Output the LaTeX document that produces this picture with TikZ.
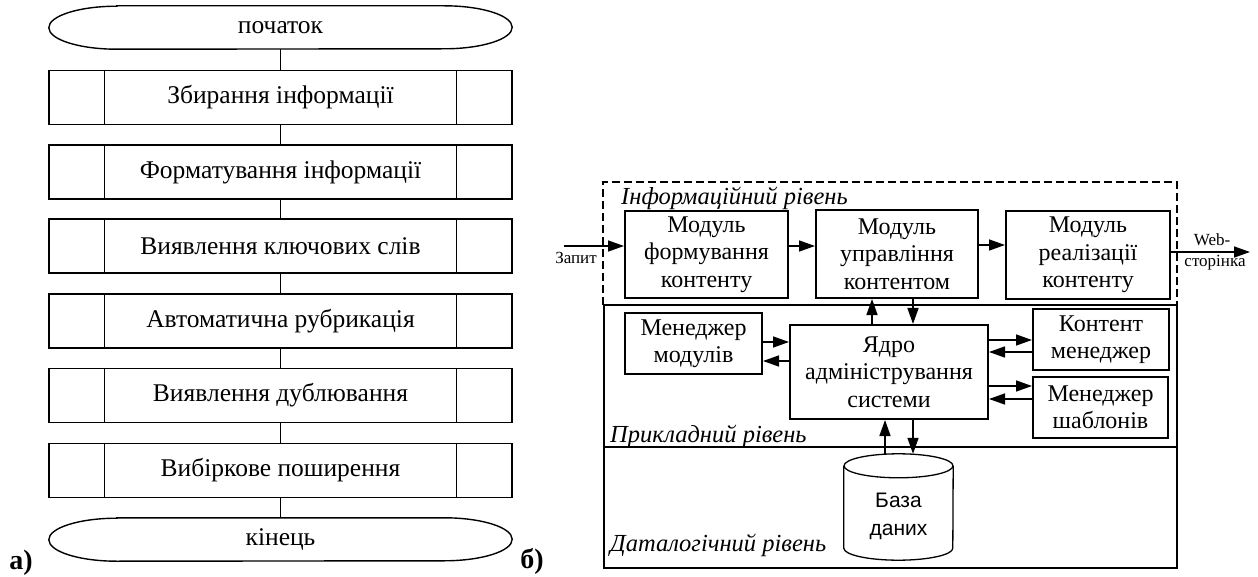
\documentclass[tikz,border=0pt]{standalone}
\usepackage{fontspec}
\setmainfont{Liberation Serif}
\newfontfamily\dbfont{Liberation Sans}
\usetikzlibrary{arrows.meta,calc}
\begin{document}
\begin{tikzpicture}[x=1pt,y=-1pt,
  fbox/.style={draw, line width=1.4pt, minimum width=463pt, minimum height=54pt, inner sep=0pt, font=\fontsize{25.5}{30}\selectfont},
  term/.style={minimum width=463pt, minimum height=43pt, inner sep=0pt, font=\fontsize{25.5}{30}\selectfont},
  flow/.style={line width=1.4pt},
  mod/.style={draw, line width=2pt, inner sep=0pt, align=center, font=\fontsize{24}{27.5}\selectfont},
  arr/.style={line width=1.5pt, -{Triangle[length=16pt,width=11pt]}},
  lvl/.style={font=\fontsize{24.5}{28}\selectfont\itshape, inner sep=0pt, anchor=base west},
  small/.style={font=\fontsize{17}{20}\selectfont, inner sep=0pt},
  tag/.style={font=\fontsize{28}{32}\selectfont\bfseries, inner sep=0pt}
]
\useasboundingbox (0,0) rectangle (1258,577);

% ---------- a) flowchart ----------
\node[term] (start) at (280.5,27.5) {початок};
\node[fbox] (b1) at (280.5,97.5) {Збирання інформації};
\node[fbox] (b2) at (280.5,172) {Форматування інформації};
\node[fbox] (b3) at (280.5,246) {Виявлення ключових слів};
\node[fbox] (b4) at (280.5,321) {Автоматична рубрикація};
\node[fbox] (b5) at (280.5,395.5) {Виявлення дублювання};
\node[fbox] (b6) at (280.5,470.5) {Вибіркове поширення};
\node[term] (end) at (280.5,539.5) {кінець};

\foreach \n in {start,end}{
  \draw[flow] ([xshift=68pt]\n.north west) -- ([xshift=-68pt]\n.north east)
    arc[start angle=90, end angle=-90, x radius=68pt, y radius=21.5pt]
    -- ([xshift=68pt]\n.south west)
    arc[start angle=270, end angle=90, x radius=68pt, y radius=21.5pt] -- cycle;
}
\foreach \n in {b1,b2,b3,b4,b5,b6}{
  \draw[flow] ([xshift=56pt]\n.north west) -- ([xshift=56pt]\n.south west);
  \draw[flow] ([xshift=-56pt]\n.north east) -- ([xshift=-56pt]\n.south east);
}
\draw[flow] (start) -- (b1);
\draw[flow] (b1) -- (b2);
\draw[flow] (b2) -- (b3);
\draw[flow] (b3) -- (b4);
\draw[flow] (b4) -- (b5);
\draw[flow] (b5) -- (b6);
\draw[flow] (b6) -- (end);

\node[tag] (ta) at (21,563) {а)};
\node[tag] (tb) at (532,561) {б)};

% ---------- b) architecture ----------
\draw[line width=2.2pt, dash pattern=on 8pt off 4pt] (603,305) -- (603,182) -- (1177,182) -- (1177,305);
\draw[line width=1.3pt] (604,305) rectangle (1177,568);
\draw[line width=1.3pt] (604,447) -- (1177,447);

\node[lvl] (l1) at (621,205) {Інформаційний рівень};
\node[lvl] (l2) at (610,442) {Прикладний рівень};
\node[lvl] (l3) at (610,551) {Даталогічний рівень};

\node[mod, minimum width=163pt, minimum height=87pt] (m1) at (706.5,254.5) {Модуль\\формування\\контенту};
\node[mod, minimum width=162pt, minimum height=88pt] (m2) at (897,254) {Модуль\\управління\\контентом};
\node[mod, minimum width=164pt, minimum height=88pt] (m3) at (1088,255) {Модуль\\реалізації\\контенту};
\node[mod, minimum width=137pt, minimum height=61pt] (mm) at (693.5,343.5) {Менеджер\\модулів};
\node[mod, minimum width=198pt, minimum height=94pt] (yd) at (889,372) {Ядро\\адміністрування\\системи};
\node[mod, minimum width=136pt, minimum height=61pt] (km) at (1101,339.5) {Контент\\менеджер};
\node[mod, minimum width=135pt, minimum height=61pt] (ms) at (1100.5,407.5) {Менеджер\\шаблонів};

% database cylinder
\node[minimum width=109pt, minimum height=106pt, inner sep=0pt] (db) at (898.5,507) {};
\draw[line width=1.3pt] ([yshift=-12pt]db.north) ellipse[x radius=54.5pt, y radius=12pt];
\draw[line width=1.3pt] ([yshift=-12pt]db.north west) -- ([yshift=12pt]db.south west)
  arc[start angle=180, end angle=360, x radius=54.5pt, y radius=12pt] -- ([yshift=-12pt]db.north east);
\node[font=\dbfont\fontsize{21}{28}\selectfont, align=center, inner sep=0pt] (dbt) at (898.5,516) {База\\даних};

% input / output
\coordinate (zin) at (564,246);
\draw[arr] (zin) -- (zin -| m1.west);
\node[small] (zl) at (576,258) {Запит};
\coordinate (wout) at (1250,252);
\draw[arr] (m3.east |- wout) -- (wout);
\node[small] (w1) at (1212,240) {Web-};
\node[small] (w2) at (1215,263) {сторінка};

% module chain
\draw[arr] ([yshift=8.5pt]m1.east) -- ([yshift=8.5pt]m1.east -| m2.west);
\draw[arr] ([yshift=9pt]m2.east) -- ([yshift=9pt]m2.east -| m3.west);

% core <-> managers
\draw[arr] ([yshift=1.5pt]mm.east) -- ([yshift=1.5pt]mm.east -| yd.west);
\draw[arr] ([yshift=-17.5pt]mm.east -| yd.west) -- ([yshift=-17.5pt]mm.east);
\draw[arr] ([yshift=-0.5pt]km.west -| yd.east) -- ([yshift=-0.5pt]km.west);
\draw[arr] ([yshift=-12.5pt]km.west) -- ([yshift=-12.5pt]km.west -| yd.east);
\draw[arr] ([yshift=21.5pt]ms.west -| yd.east) -- ([yshift=21.5pt]ms.west);
\draw[arr] ([yshift=8.5pt]ms.west) -- ([yshift=8.5pt]ms.west -| yd.east);

% core <-> management module
\draw[arr] ([xshift=-17pt]yd.north) -- ([xshift=-17pt]yd.north |- m2.south);
\draw[arr] ([xshift=24pt]yd.north |- m2.south) -- ([xshift=24pt]yd.north);

% core <-> database
\draw[arr] ([xshift=-4pt]yd.south |- db.north) -- ([xshift=-4pt]yd.south);
\draw[arr] ([xshift=24pt]yd.south) -- ([xshift=24pt]yd.south |- db.north);
\end{tikzpicture}
\end{document}
